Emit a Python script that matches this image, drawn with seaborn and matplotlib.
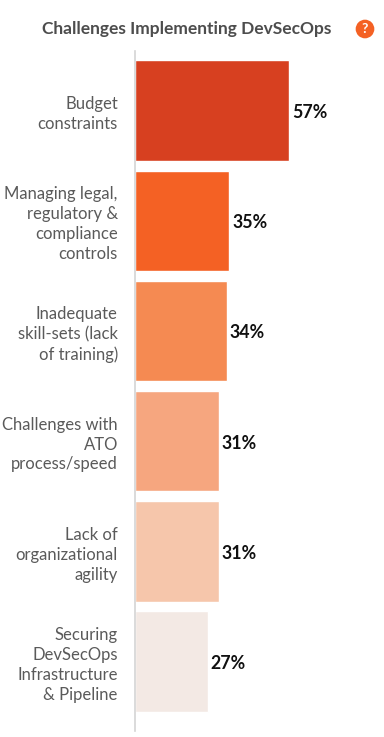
import pandas as pd
import matplotlib
matplotlib.use('Agg')
import matplotlib.pyplot as plt
import seaborn as sns

categories = ['Budget\nconstraints',
              'Managing legal,\nregulatory &\ncompliance\ncontrols',
              'Inadequate\nskill-sets (lack\nof training)',
              'Challenges with\nATO\nprocess/speed',
              'Lack of\norganizational\nagility',
              'Securing\nDevSecOps\nInfrastructure\n& Pipeline']
values = [57, 35, 34, 31, 31, 27]
colors = ['#d74020', '#f46124', '#f58a52', '#f6a67f', '#f6c6ab', '#f3e9e4']

sns.set_style('white')
plt.rcParams['font.family'] = ['Lato', 'DejaVu Sans']

df = pd.DataFrame({'category': categories, 'value': values})

fig = plt.figure(figsize=(3.84, 7.37), dpi=100)
ax = fig.add_axes([134.5/384, 1-731/737, 1-134.5/384, (731-51)/737])
sns.barplot(data=df, y='category', x='value', hue='category', palette=colors,
            legend=False, width=0.91, saturation=1, ax=ax)

ax.set_xlim(0, 92.0)
ax.set_ylim(5.63, -0.54)
ax.set_xlabel('')
ax.set_ylabel('')
ax.set_xticks([])
ax.tick_params(axis='y', length=0, pad=12, labelsize=12, labelcolor='#5a5a5a')
for lab in ax.get_yticklabels():
    lab.set_fontweight('normal')
    lab.set_linespacing(1.3)
for s in ['top', 'right', 'bottom']:
    ax.spines[s].set_visible(False)
ax.spines['left'].set_color('#d4d4d4')
ax.spines['left'].set_linewidth(1.2)

for i, v in enumerate(values):
    ax.annotate(f'{v}%', (v, i), xytext=(2.0, -1.4), textcoords='offset points',
                va='center', ha='left', fontsize=12.8, fontweight='bold', color='#111111')

fig.text(42/384, 1-29/737, 'Challenges Implementing DevSecOps', fontsize=12.5,
         fontweight='bold', color='#4d4d4d', va='center', ha='left')
fig.text(365/384, 1-29/737, '?', fontsize=10, fontweight='bold', color='white',
         va='center', ha='center',
         bbox=dict(boxstyle='circle,pad=0.24', fc='#f46124', ec='none'))

fig.savefig('out.png', dpi=100)
